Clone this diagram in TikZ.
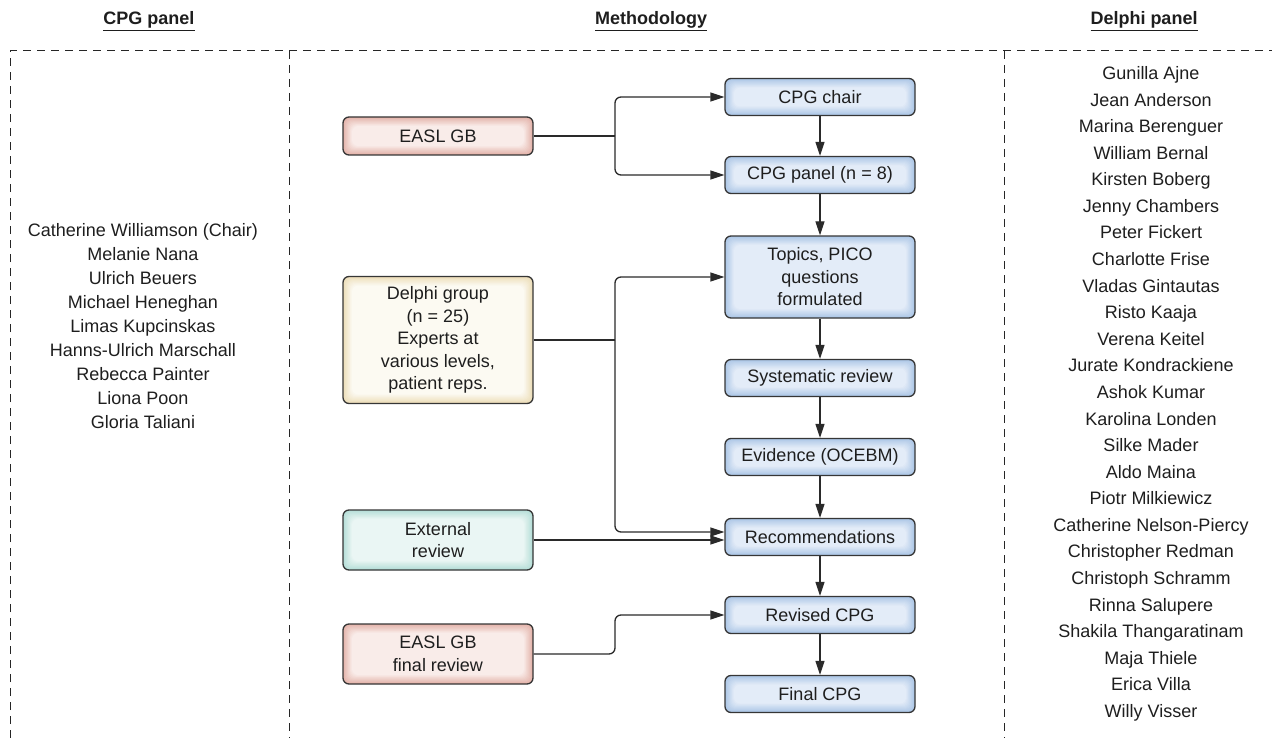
\documentclass[tikz,border=0pt]{standalone}
\usepackage{fontspec}
\setmainfont{Liberation Sans}
\usetikzlibrary{arrows.meta}

\definecolor{boxline}{HTML}{363636}
\definecolor{linecol}{HTML}{2A2A2A}
\definecolor{txt}{HTML}{1E1E1E}
\definecolor{blueIn}{HTML}{E3ECF8}
\definecolor{blueOut}{HTML}{ACC6E6}
\definecolor{redIn}{HTML}{F9ECE9}
\definecolor{redOut}{HTML}{E4B3AA}
\definecolor{yelIn}{HTML}{FCFAF2}
\definecolor{yelOut}{HTML}{ECDDB8}
\definecolor{grnIn}{HTML}{EAF6F4}
\definecolor{grnOut}{HTML}{B5DED7}

\begin{document}
\begin{tikzpicture}[x=1pt,y=-1pt,
  font=\fontsize{18}{22.5}\selectfont, text=txt,
  box/.style={draw=boxline, line width=1.3pt, rounded corners=6pt,
    minimum width=190pt, align=center, inner sep=0pt},
  % soft inner glow: edge colour fading to a light centre
  glow/.style 2 args={box, fill=#2, path picture={
    \foreach \k in {1,...,10}{
      \pgfmathtruncatemacro\p{\k*10}
      \fill[#1!\p!#2, rounded corners=6pt]
        ([shift={(\k*0.9pt,\k*0.9pt)}]path picture bounding box.south west)
        rectangle ([shift={(-\k*0.9pt,-\k*0.9pt)}]path picture bounding box.north east);
    }}},
  stepbox/.style={glow={blueIn}{blueOut}},
  govbox/.style={glow={redIn}{redOut}},
  delphibox/.style={glow={yelIn}{yelOut}},
  extbox/.style={glow={grnIn}{grnOut}},
  link/.style={draw=linecol, line width=1.3pt,
    -{Triangle[length=14pt,width=9pt]}},
  plain/.style={draw=linecol, line width=1.3pt},
  divider/.style={draw=black!85, line width=1pt, dash pattern=on 8pt off 6pt},
  head/.style={font=\fontsize{18}{22}\selectfont\bfseries},
  member/.style={text height=13pt, text depth=4pt, inner sep=0pt}
]
\useasboundingbox (0,0) rectangle (1274,738);

% column dividers
\draw[divider] (10,738) -- (10,51) -- (1272,51);
\draw[divider] (289,51) -- (289,738);
\draw[divider] (1004,51) -- (1004,738);

% column headings
\node[head] (hcpg)    at (149,21)  {\underline{CPG panel}};
\node[head] (hmeth)   at (651,21)  {\underline{Methodology}};
\node[head] (hdelphi) at (1144,21) {\underline{Delphi panel}};

% CPG panel members
\foreach \n [count=\i from 0] in {Catherine Williamson (Chair),Melanie Nana,Ulrich Beuers,
  Michael Heneghan,Limas Kupcinskas,Hanns-Ulrich Marschall,Rebecca Painter,Liona Poon,Gloria Taliani}
  \node[member] (c\i) at (143,232+24*\i) {\n};

% Delphi panel members
\foreach \n [count=\i from 0] in {Gunilla Ajne,Jean Anderson,Marina Berenguer,William Bernal,
  Kirsten Boberg,Jenny Chambers,Peter Fickert,Charlotte Frise,Vladas Gintautas,Risto Kaaja,
  Verena Keitel,Jurate Kondrackiene,Ashok Kumar,Karolina Londen,Silke Mader,Aldo Maina,
  Piotr Milkiewicz,Catherine Nelson-Piercy,Christopher Redman,Christoph Schramm,
  Rinna Salupere,Shakila Thangaratinam,Maja Thiele,Erica Villa,Willy Visser}
  \node[member] (d\i) at (1151,75+26.58*\i) {\n};

% methodology steps
\node[stepbox, minimum height=37pt] (chair)   at (820,97)  {CPG chair};
\node[stepbox, minimum height=37pt] (panel)   at (820,175) {CPG panel (n = 8)};
\node[stepbox, minimum height=82pt] (topics)  at (820,277) {Topics, PICO\\questions\\formulated};
\node[stepbox, minimum height=37pt] (sysrev)  at (820,378) {Systematic review};
\node[stepbox, minimum height=37pt] (evid)    at (820,457) {Evidence (OCEBM)};
\node[stepbox, minimum height=37pt] (recs)    at (820,537) {Recommendations};
\node[stepbox, minimum height=37pt] (revised) at (820,615) {Revised CPG};
\node[stepbox, minimum height=37pt] (final)   at (820,694) {Final CPG};

% contributing groups
\node[govbox,    minimum height=38pt]  (gb)      at (438,136) {EASL GB};
\node[delphibox, minimum height=127pt] (delphi)  at (438,340) {Delphi group\\(n = 25)\\Experts at\\various levels,\\patient reps.};
\node[extbox,    minimum height=60pt]  (ext)     at (438,540) {External\\review};
\node[govbox,    minimum height=60pt]  (gbfinal) at (438,654) {EASL GB\\final review};

% main flow
\draw[link] (chair)   -- (panel);
\draw[link] (panel)   -- (topics);
\draw[link] (topics)  -- (sysrev);
\draw[link] (sysrev)  -- (evid);
\draw[link] (evid)    -- (recs);
\draw[link] (recs)    -- (revised);
\draw[link] (revised) -- (final);

% EASL GB appoints chair and panel
\coordinate (j1) at (615,136);
\draw[plain] (gb.east) -- (j1);
\draw[link, rounded corners=6pt] (j1) |- (chair.west);
\draw[link, rounded corners=6pt] (j1) |- (panel.west);

% Delphi group feeds topics and recommendations
\coordinate (j2) at (615,340);
\draw[plain] (delphi.east) -- (j2);
\draw[link, rounded corners=6pt] (j2) |- (topics.west);
\draw[link, rounded corners=6pt] (j2) |- ([yshift=5pt]recs.west);

% external review
\draw[link] (ext.east) -- (ext.east -| recs.west);

% final review by EASL GB
\coordinate (j3) at (615,654);
\draw[link, rounded corners=6pt] (gbfinal.east) -- (j3) |- (revised.west);
\end{tikzpicture}
\end{document}
